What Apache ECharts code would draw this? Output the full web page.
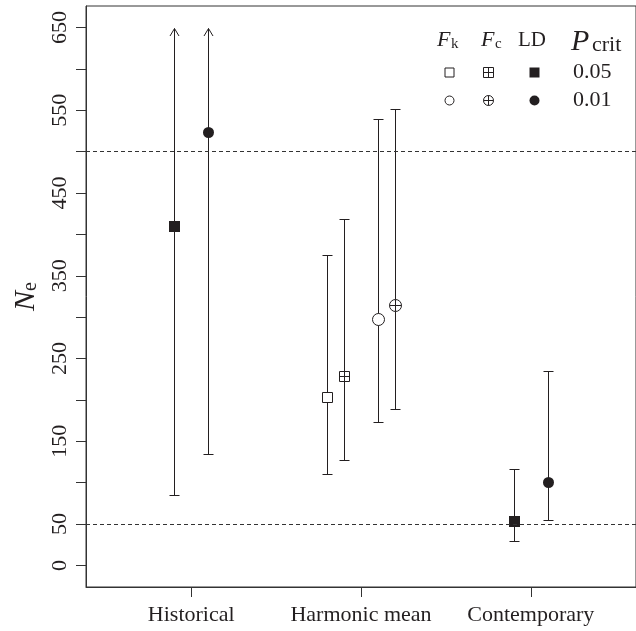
<!DOCTYPE html>
<html>
<head>
<meta charset="utf-8">
<script src="https://cdn.jsdelivr.net/npm/echarts@6/dist/echarts.min.js"></script>
<style>html,body{margin:0;padding:0;background:#fff}#c{width:636px;height:631px}</style>
</head>
<body>
<div id="c"></div>
<script>
// ---- data ----
const categories = ['Historical', 'Harmonic mean', 'Contemporary'];
const methods = ['LD', 'LD', 'Fk', 'Fc', 'Fk', 'Fc', 'LD', 'LD'];
const pcrit = ['0.05', '0.01', '0.05', '0.05', '0.01', '0.01', '0.05', '0.01'];
const pointCategory = [0, 0, 1, 1, 1, 1, 2, 2];
const estimates = [410, 524, 203, 229, 298, 315, 54, 101];
const lowerCI = [85, 135, 110, 128, 173, 189, 29, 55];
const upperCI = [Infinity, Infinity, 375, 419, 540, 552, 117, 235];
const yTicks = [0, 50, 100, 150, 200, 250, 300, 350, 400, 450, 500, 550, 600, 650];
const yTickLabels = [0, 50, 150, 250, 350, 450, 550, 650];
const referenceLines = [50, 500];
const legendMethods = ['Fk', 'Fc', 'LD'];
const legendPcrit = ['0.05', '0.01'];

// ---- layout / style ----
const INK = '#231f20';
const FONT = '"Liberation Serif", "DejaVu Serif", serif';
const dodge = {2: [-0.1, 0.1], 4: [-0.2, -0.1, 0.1, 0.2]};
const yTop = yTicks[yTicks.length - 1];

const counts = {};
pointCategory.forEach(c => counts[c] = (counts[c] || 0) + 1);
const seen = {};
const seriesData = estimates.map((est, i) => {
  const c = pointCategory[i];
  const j = seen[c] = (seen[c] === undefined ? 0 : seen[c] + 1);
  const x = c + 1 + dodge[counts[c]][j];
  const inf = !isFinite(upperCI[i]);
  return [x, est, lowerCI[i], inf ? yTop : upperCI[i], inf ? 1 : 0, i];
});

function markerEls(method, p, cx, cy, size) {
  const shape = p === '0.05' ? 'square' : 'circle';
  const filled = method === 'LD';
  const crossed = method === 'Fc';
  const h = size / 2;
  const els = [];
  const st = filled ? {fill: INK, stroke: null} : {fill: '#fff', stroke: INK, lineWidth: 1};
  if (shape === 'square') {
    els.push({type: 'rect', shape: {x: cx - h, y: cy - h, width: size, height: size}, style: st});
  } else {
    els.push({type: 'circle', shape: {cx: cx, cy: cy, r: h}, style: st});
  }
  if (crossed) {
    els.push({type: 'line', shape: {x1: cx - h, y1: cy, x2: cx + h, y2: cy}, style: {stroke: INK, lineWidth: 1}});
    els.push({type: 'line', shape: {x1: cx, y1: cy - h, x2: cx, y2: cy + h}, style: {stroke: INK, lineWidth: 1}});
  }
  return els;
}

function renderItem(params, api) {
  const i = api.value(5);
  const px = Math.round(api.coord([api.value(0), 0])[0]) + 0.5;
  const yEst = api.coord([0, api.value(1)])[1];
  const yLo = Math.round(api.coord([0, api.value(2)])[1]) + 0.5;
  const yHi = Math.round(api.coord([0, api.value(3)])[1]) + 0.5;
  const inf = api.value(4) === 1;
  const lineSt = {stroke: INK, lineWidth: 1};
  const cap = 5;
  const children = [
    {type: 'line', shape: {x1: px, y1: yLo, x2: px, y2: yHi}, style: lineSt},
    {type: 'line', shape: {x1: px - cap, y1: yLo, x2: px + cap, y2: yLo}, style: lineSt}
  ];
  if (inf) {
    children.push({type: 'polyline', shape: {points: [[px - 4.5, yHi + 7.5], [px, yHi], [px + 4.5, yHi + 7.5]]}, style: {stroke: INK, lineWidth: 1, fill: null}});
  } else {
    children.push({type: 'line', shape: {x1: px - cap, y1: yHi, x2: px + cap, y2: yHi}, style: lineSt});
  }
  const m = methods[i];
  const size = m === 'LD' ? 11 : (pcrit[i] === '0.05' ? 10 : 12);
  const cx = px, cy = Math.round(yEst) + 0.5;
  markerEls(m, pcrit[i], cx, cy, size).forEach(e => children.push(e));
  return {type: 'group', children: children};
}

// legend graphics
const legendX = {Fk: 449.5, Fc: 488.5, LD: 534.5};
const legendY = {'0.05': 72.5, '0.01': 100.5};
const graphics = [];
legendPcrit.forEach(p => {
  legendMethods.forEach(m => {
    const size = m === 'LD' ? 10 : (m === 'Fc' ? 10 : 9);
    markerEls(m, p, legendX[m], legendY[p], size).forEach(e => graphics.push(e));
  });
  graphics.push({type: 'text', x: 573, y: legendY[p], style: {text: p, font: '22px ' + FONT, fill: INK, textAlign: 'left', textVerticalAlign: 'middle'}});
});
// headers
graphics.push({type: 'text', x: 437, y: 40, style: {text: 'F', font: 'italic 22px ' + FONT, fill: INK, textVerticalAlign: 'middle'}});
graphics.push({type: 'text', x: 451, y: 44, style: {text: 'k', font: '15px ' + FONT, fill: INK, textVerticalAlign: 'middle'}});
graphics.push({type: 'text', x: 481, y: 40, style: {text: 'F', font: 'italic 22px ' + FONT, fill: INK, textVerticalAlign: 'middle'}});
graphics.push({type: 'text', x: 495, y: 44, style: {text: 'c', font: '15px ' + FONT, fill: INK, textVerticalAlign: 'middle'}});
graphics.push({type: 'text', x: 518, y: 40, style: {text: 'LD', font: '21px ' + FONT, fill: INK, textVerticalAlign: 'middle'}});
graphics.push({type: 'text', x: 571, y: 42, style: {text: 'P', font: 'italic 30px ' + FONT, fill: INK, textVerticalAlign: 'middle'}});
graphics.push({type: 'text', x: 592, y: 45, style: {text: 'crit', font: '22px ' + FONT, fill: INK, textVerticalAlign: 'middle'}});

const chart = echarts.init(document.getElementById('c'), null, {renderer: 'canvas'});
chart.setOption({
  animation: false,
  backgroundColor: '#fff',
  grid: {left: 86, top: 6, right: -5, bottom: 44, show: true, borderColor: '#333', borderWidth: 1, backgroundColor: 'transparent'},
  xAxis: {
    type: 'value', min: 0.38, max: 3.62,
    axisLine: {show: true, onZero: false, lineStyle: {color: '#333', width: 1}},
    splitLine: {show: false},
    axisTick: {show: true, customValues: [1, 2, 3], length: 10, lineStyle: {color: '#333'}},
    axisLabel: {customValues: [1, 2, 3], formatter: v => categories[Math.round(v) - 1], fontFamily: FONT, fontSize: 22, color: INK, margin: 17}
  },
  yAxis: {
    type: 'value', min: -26, max: 676,
    axisLine: {show: true, onZero: false, lineStyle: {color: '#333', width: 1}},
    splitLine: {show: false},
    axisTick: {show: true, customValues: yTicks, length: 10, lineStyle: {color: '#333'}},
    axisLabel: {customValues: yTickLabels, rotate: 90, fontFamily: FONT, fontSize: 22, color: INK, margin: 15},
    name: '{n|N}{e|e}', nameLocation: 'middle', nameRotate: 90, nameGap: 42,
    nameTextStyle: {rich: {
      n: {fontFamily: FONT, fontStyle: 'italic', fontSize: 30, color: INK},
      e: {fontFamily: FONT, fontSize: 20, color: INK, padding: [10, 0, 0, 0]}
    }}
  },
  graphic: graphics,
  series: [
    {
      type: 'line', data: [], silent: true,
      markLine: {
        silent: true, symbol: ['none', 'none'], label: {show: false},
        lineStyle: {type: [4, 3], color: '#333', width: 1},
        data: referenceLines.map(v => ({yAxis: v}))
      }
    },
    {
      type: 'custom', renderItem: renderItem, data: seriesData,
      encode: {x: 0, y: [1, 2, 3]}, clip: false
    }
  ]
});
</script>
</body>
</html>
